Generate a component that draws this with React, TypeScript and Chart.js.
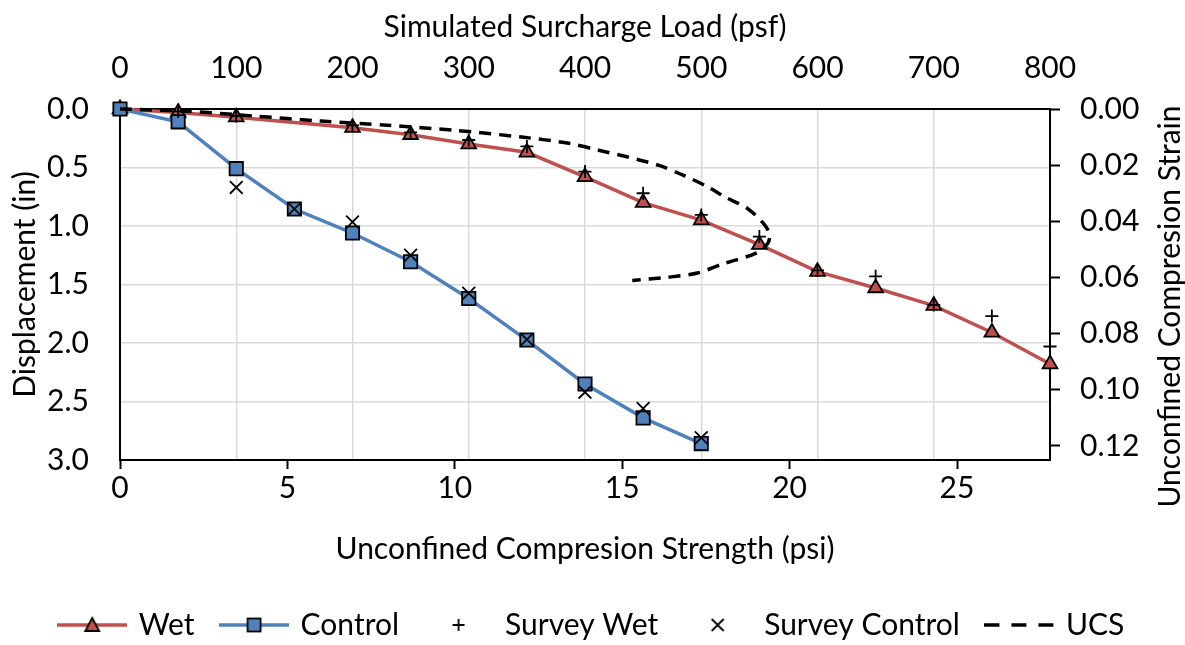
import React, { useEffect, useRef } from 'react';
import { Chart, registerables } from 'chart.js';

Chart.register(...registerables);

// ---- Data ----
const surchargeTicksPsf = [0, 100, 200, 300, 400, 500, 600, 700, 800];
const ucsAxisMaxPsi = 800 / 28.8; // bottom axis spans the same width as 0-800 psf
const strainAxisMax = 0.125; // 3.0 in displacement ↔ 0.125 strain

const wetLoadPsf = [0, 50, 100, 200, 250, 300, 350, 400, 450, 500, 550, 600, 650, 700, 750, 800];
const wetDisp = [0, 0.03, 0.07, 0.16, 0.22, 0.3, 0.37, 0.58, 0.8, 0.95, 1.16, 1.39, 1.53, 1.68, 1.91, 2.18];

const controlLoadPsf = [0, 50, 100, 150, 200, 250, 300, 350, 400, 450, 500];
const controlDisp = [0, 0.11, 0.51, 0.855, 1.06, 1.305, 1.62, 1.975, 2.35, 2.64, 2.86];

const surveyWetLoadPsf = [50, 100, 200, 250, 300, 350, 400, 450, 500, 550, 600, 650, 700, 750, 800];
const surveyWetDisp = [0.02, 0.06, 0.14, 0.2, 0.265, 0.32, 0.535, 0.72, 0.905, 1.09, 1.38, 1.43, 1.675, 1.77, 2.03];

const surveyControlLoadPsf = [100, 150, 200, 250, 300, 350, 400, 450, 500];
const surveyControlDisp = [0.67, 0.855, 0.965, 1.25, 1.575, 1.97, 2.42, 2.56, 2.81];

const ucsStrengthPsi = [0, 2, 4, 6, 8, 10, 12, 13.4, 14.3, 15.2, 16.1, 16.85, 17.6, 18.05, 18.75, 19.2, 19.4, 19.35, 19.0, 18.0, 17.25, 16.3, 15.3];
const ucsStrain = [0, 0.0008, 0.0025, 0.0043, 0.0058, 0.0076, 0.01, 0.0122, 0.0147, 0.0172, 0.0201, 0.0237, 0.028, 0.0312, 0.0355, 0.0405, 0.0445, 0.0478, 0.0513, 0.0552, 0.0584, 0.06, 0.0611];

const seriesLabels = ['Wet', 'Control', 'Survey Wet', 'Survey Control', 'UCS'];
const rightAxisTitle = 'Unconfined Compresion Strain';

const RED = '#C0504D';
const BLUE = '#4F81BD';
const FONT = 'Lato';
const FS = 30;

function makeIcon(kind: string): HTMLCanvasElement {
  const c = document.createElement('canvas');
  c.width = 70;
  c.height = 24;
  const ctx = c.getContext('2d')!;
  const cx = 35;
  const cy = 12;
  ctx.lineCap = 'butt';
  if (kind === 'wet' || kind === 'control') {
    ctx.strokeStyle = kind === 'wet' ? RED : BLUE;
    ctx.lineWidth = 3.5;
    ctx.beginPath();
    ctx.moveTo(0, cy);
    ctx.lineTo(70, cy);
    ctx.stroke();
    ctx.lineWidth = 1.8;
    ctx.strokeStyle = '#000';
    if (kind === 'wet') {
      ctx.fillStyle = RED;
      ctx.beginPath();
      ctx.moveTo(cx, cy - 7);
      ctx.lineTo(cx - 7, cy + 6);
      ctx.lineTo(cx + 7, cy + 6);
      ctx.closePath();
      ctx.fill();
      ctx.stroke();
    } else {
      ctx.fillStyle = BLUE;
      ctx.fillRect(cx - 6.5, cy - 6.5, 13, 13);
      ctx.strokeRect(cx - 6.5, cy - 6.5, 13, 13);
    }
  } else if (kind === 'swet') {
    ctx.strokeStyle = '#000';
    ctx.lineWidth = 1.8;
    ctx.beginPath();
    ctx.moveTo(cx - 6, cy);
    ctx.lineTo(cx + 6, cy);
    ctx.moveTo(cx, cy - 6);
    ctx.lineTo(cx, cy + 6);
    ctx.stroke();
  } else if (kind === 'scontrol') {
    ctx.strokeStyle = '#000';
    ctx.lineWidth = 1.8;
    ctx.beginPath();
    ctx.moveTo(cx - 6, cy - 6);
    ctx.lineTo(cx + 6, cy + 6);
    ctx.moveTo(cx + 6, cy - 6);
    ctx.lineTo(cx - 6, cy + 6);
    ctx.stroke();
  } else {
    ctx.strokeStyle = '#000';
    ctx.lineWidth = 3.5;
    ctx.beginPath();
    [[0, 15], [27, 42], [54, 69]].forEach(([a, b]) => {
      ctx.moveTo(a, cy);
      ctx.lineTo(b, cy);
    });
    ctx.stroke();
  }
  return c;
}

// Right axis title reads bottom-to-top, like the left one
const rightTitlePlugin = {
  id: 'rightTitle',
  afterDraw(chart: any) {
    const { ctx, chartArea } = chart;
    const s = chart.scales.y2;
    ctx.save();
    ctx.translate(s.right - 15, (chartArea.top + chartArea.bottom) / 2 + 22);
    ctx.rotate(-Math.PI / 2);
    ctx.font = `${FS}px ${FONT}`;
    ctx.fillStyle = '#000';
    ctx.textAlign = 'center';
    ctx.textBaseline = 'middle';
    ctx.fillText(rightAxisTitle, 0, 0);
    ctx.restore();
  },
};

export default function App() {
  const ref = useRef<HTMLCanvasElement | null>(null);

  useEffect(() => {
    if (!ref.current) return;
    Chart.defaults.font.family = FONT;
    Chart.defaults.color = '#000';
    const icons = ['wet', 'control', 'swet', 'scontrol', 'ucs'].map(makeIcon);
    const tickFont = { family: FONT, size: FS };
    const titleFont = { family: FONT, size: FS, lineHeight: 1 };

    const chart = new Chart(ref.current, {
      type: 'scatter',
      plugins: [rightTitlePlugin],
      data: {
        datasets: [
          {
            label: seriesLabels[0],
            data: wetLoadPsf.map((x, i) => ({ x, y: wetDisp[i] })),
            xAxisID: 'x2',
            yAxisID: 'y',
            showLine: true,
            borderColor: RED,
            borderWidth: 3.5,
            pointStyle: 'triangle',
            pointRadius: 8.5,
            pointBackgroundColor: RED,
            pointBorderColor: '#000',
            pointBorderWidth: 1.8,
            clip: false,
            order: 5,
          },
          {
            label: seriesLabels[1],
            data: controlLoadPsf.map((x, i) => ({ x, y: controlDisp[i] })),
            xAxisID: 'x2',
            yAxisID: 'y',
            showLine: true,
            borderColor: BLUE,
            borderWidth: 3.5,
            pointStyle: 'rect',
            pointRadius: 9.4,
            pointBackgroundColor: BLUE,
            pointBorderColor: '#000',
            pointBorderWidth: 1.8,
            clip: false,
            order: 4,
          },
          {
            label: seriesLabels[2],
            data: surveyWetLoadPsf.map((x, i) => ({ x, y: surveyWetDisp[i] })),
            xAxisID: 'x2',
            yAxisID: 'y',
            showLine: false,
            pointStyle: 'cross',
            pointRadius: 6.5,
            pointBorderColor: '#000',
            pointBackgroundColor: '#000',
            pointBorderWidth: 1.8,
            clip: false,
            order: 3,
          },
          {
            label: seriesLabels[3],
            data: surveyControlLoadPsf.map((x, i) => ({ x, y: surveyControlDisp[i] })),
            xAxisID: 'x2',
            yAxisID: 'y',
            showLine: false,
            pointStyle: 'crossRot',
            pointRadius: 9,
            pointBorderColor: '#000',
            pointBackgroundColor: '#000',
            pointBorderWidth: 1.8,
            clip: false,
            order: 2,
          },
          {
            label: seriesLabels[4],
            data: ucsStrengthPsi.map((x, i) => ({ x, y: ucsStrain[i] })),
            xAxisID: 'x',
            yAxisID: 'y2',
            showLine: true,
            borderColor: '#000',
            borderWidth: 3.5,
            borderDash: [12, 8],
            tension: 0.3,
            pointRadius: 0,
            clip: false,
            order: 1,
          },
        ],
      },
      options: {
        animation: false,
        responsive: false,
        devicePixelRatio: 1,
        layout: { padding: { top: 0, left: 0, right: 0, bottom: -5 } },
        plugins: {
          tooltip: { enabled: false },
          legend: {
            position: 'bottom',
            labels: {
              font: { family: FONT, size: FS },
              color: '#000',
              usePointStyle: true,
              pointStyleWidth: 63,
              padding: 28,
              generateLabels: () =>
                seriesLabels.map((text, i) => ({
                  text,
                  pointStyle: icons[i],
                  datasetIndex: i,
                  hidden: false,
                  lineWidth: 0,
                  fillStyle: 'transparent',
                  strokeStyle: 'transparent',
                  fontColor: '#000',
                })),
            },
          },
        },
        scales: {
          x: {
            type: 'linear',
            position: 'bottom',
            min: 0,
            max: ucsAxisMaxPsi,
            afterFit: (s: any) => {
              s.height = 122;
            },
            ticks: {
              stepSize: 5,
              includeBounds: false,
              font: tickFont,
              color: '#000',
              padding: 1,
              callback: (v: any) => String(Math.round(Number(v))),
            },
            grid: {
              display: true,
              drawOnChartArea: false,
              drawTicks: true,
              tickLength: 9,
              tickColor: '#000',
              tickWidth: 2,
            },
            border: { color: '#000', width: 2 },
            title: {
              display: true,
              text: 'Unconfined Compresion Strength (psi)',
              font: titleFont,
              color: '#000',
              padding: { top: 0, bottom: 18 },
            },
          },
          x2: {
            type: 'linear',
            position: 'top',
            min: 0,
            max: 800,
            afterFit: (s: any) => {
              s.height = 109;
            },
            afterBuildTicks: (s: any) => {
              s.ticks = surchargeTicksPsf.map((v) => ({ value: v }));
            },
            ticks: {
              font: tickFont,
              color: '#000',
              padding: 23,
              callback: (v: any) => String(v),
            },
            grid: {
              display: true,
              drawOnChartArea: true,
              drawTicks: false,
              color: '#d9d9d9',
              lineWidth: 1.5,
            },
            border: { color: '#000', width: 2 },
            title: {
              display: true,
              text: 'Simulated Surcharge Load (psf)',
              font: titleFont,
              color: '#000',
              padding: { top: 12, bottom: 0 },
            },
          },
          y: {
            type: 'linear',
            position: 'left',
            reverse: true,
            min: 0,
            max: 3,
            afterFit: (s: any) => {
              s.width = 120;
            },
            ticks: {
              stepSize: 0.5,
              font: tickFont,
              color: '#000',
              padding: 31,
              callback: (v: any) => Number(v).toFixed(1),
            },
            grid: {
              display: true,
              drawTicks: false,
              color: '#d9d9d9',
              lineWidth: 1.5,
            },
            border: { color: '#000', width: 2 },
            title: {
              display: true,
              text: 'Displacement (in)',
              font: titleFont,
              color: '#000',
              padding: { top: 10, bottom: 0 },
            },
          },
          y2: {
            type: 'linear',
            position: 'right',
            reverse: true,
            min: 0,
            max: strainAxisMax,
            afterFit: (s: any) => {
              s.width = 135;
            },
            ticks: {
              stepSize: 0.02,
              includeBounds: false,
              font: tickFont,
              color: '#000',
              padding: 20,
              callback: (v: any) => Number(v).toFixed(2),
            },
            grid: {
              display: true,
              drawOnChartArea: false,
              drawTicks: true,
              tickLength: 10,
              tickColor: '#000',
              tickWidth: 2,
            },
            border: { color: '#000', width: 2 },
            title: { display: false },
          },
        },
      },
    } as any);

    return () => chart.destroy();
  }, []);

  return (
    <div style={{ position: 'fixed', left: 0, top: 0, width: 1185, height: 645, background: '#fff' }}>
      <canvas ref={ref} width={1185} height={645} style={{ display: 'block' }} />
    </div>
  );
}
